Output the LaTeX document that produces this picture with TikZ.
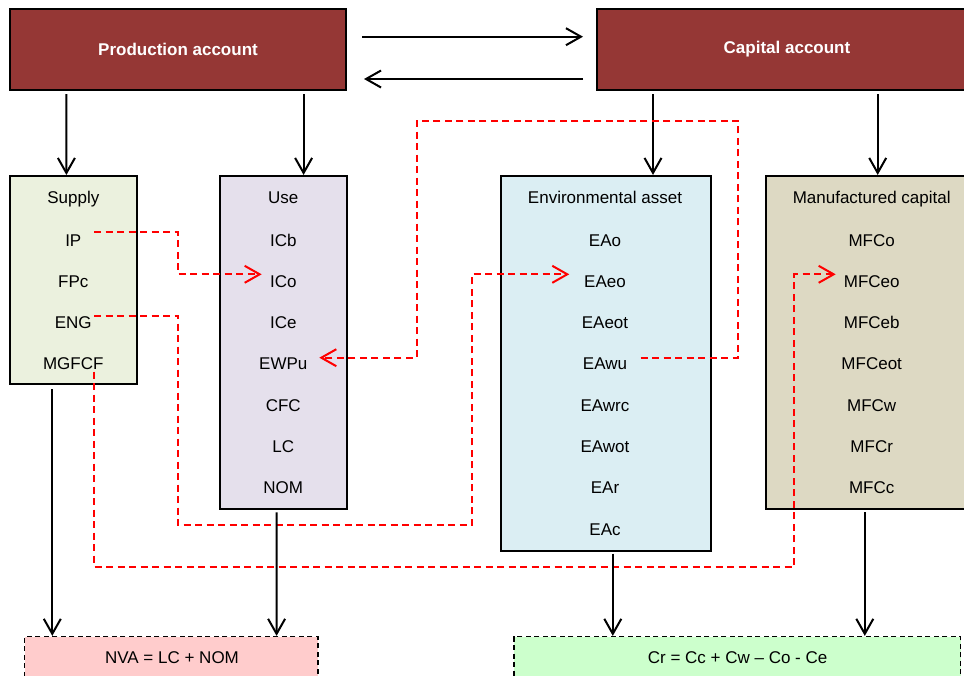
\documentclass[tikz,border=0pt]{standalone}
\usepackage{fontspec}
\setmainfont{Liberation Sans}
\usetikzlibrary{arrows.meta}
\definecolor{acc}{RGB}{149,55,53}
\definecolor{supfill}{RGB}{235,241,222}
\definecolor{usefill}{RGB}{229,224,236}
\definecolor{envfill}{RGB}{219,238,243}
\definecolor{mfcfill}{RGB}{221,217,195}
\definecolor{nvafill}{RGB}{255,204,204}
\definecolor{crfill}{RGB}{204,255,204}
\definecolor{rdash}{RGB}{255,0,0}
\tikzset{
  txt/.style={font=\fontsize{17}{20}\selectfont, anchor=base, inner sep=0pt},
  acct/.style={draw=black, line width=2pt, fill=acc, text=white, font=\fontsize{17}{20}\selectfont\bfseries, inner sep=0pt},
  colbox/.style={draw=black, line width=2pt, inner sep=0pt},
  resbox/.style={draw=black, line width=1.6pt, dash pattern=on 5pt off 3.5pt, inner sep=0pt},
  arr/.style={line width=2pt, -{Straight Barb[length=15pt,width=17pt,line width=2pt]}},
  rdarr/.style={draw=rdash, line width=2pt, dash pattern=on 7pt off 4.5pt, -{Straight Barb[length=15pt,width=17pt,line width=2pt]}}
}
\begin{document}
\begin{tikzpicture}[x=1pt,y=-1pt]
\useasboundingbox (0,0) rectangle (964,675);

% account boxes
\node[acct, minimum width=336pt, minimum height=81pt] (prod) at (178,49.5) {Production account};
\node[acct, minimum width=380pt, minimum height=81pt] (cap) at (787,49.5) {Capital account};

% column boxes
\node[colbox, fill=supfill, minimum width=126.7pt, minimum height=208pt] (sup) at (73.3,280) {};
\node[colbox, fill=usefill, minimum width=126.7pt, minimum height=333.3pt] (use) at (283.3,342.6) {};
\node[colbox, fill=envfill, minimum width=210pt, minimum height=374.7pt] (env) at (605.7,363.3) {};
\node[colbox, fill=mfcfill, minimum width=211pt, minimum height=333.3pt] (mfc) at (871.5,342.6) {};

% result boxes
\node[resbox, fill=nvafill, minimum width=293.2pt, minimum height=41.3pt] (nva) at (171.2,657.3) {};
\node[resbox, fill=crfill, minimum width=446.9pt, minimum height=41.3pt] (cr) at (737.2,657.3) {};

% texts: supply
\node[txt] (tsup) at (73.3,203.3) {Supply};
\node[txt] (ip) at (73.3,246) {IP};
\node[txt] (fpc) at (73.3,287.3) {FPc};
\node[txt] (eng) at (73.3,328.6) {ENG};
\node[txt] (mgfcf) at (73.3,369.9) {MGFCF};
% use
\node[txt] (tuse) at (283.3,203.3) {Use};
\node[txt] (icb) at (283.3,246) {ICb};
\node[txt] (ico) at (283.3,287.3) {ICo};
\node[txt] (ice) at (283.3,328.6) {ICe};
\node[txt] (ewpu) at (283.3,369.9) {EWPu};
\node[txt] (cfc) at (283.3,411.2) {CFC};
\node[txt] (lc) at (283.3,452.5) {LC};
\node[txt] (nom) at (283.3,493.8) {NOM};
% environmental asset
\node[txt] (tenv) at (605,203.3) {Environmental asset};
\node[txt] (eao) at (605,246) {EAo};
\node[txt] (eaeo) at (605,287.3) {EAeo};
\node[txt] (eaeot) at (605,328.6) {EAeot};
\node[txt] (eawu) at (605,369.9) {EAwu};
\node[txt] (eawrc) at (605,411.2) {EAwrc};
\node[txt] (eawot) at (605,452.5) {EAwot};
\node[txt] (ear) at (605,493.8) {EAr};
\node[txt] (eac) at (605,535.1) {EAc};
% manufactured capital
\node[txt] (tmfc) at (871.7,203.3) {Manufactured capital};
\node[txt] (mfco) at (871.7,246) {MFCo};
\node[txt] (mfceo) at (871.7,287.3) {MFCeo};
\node[txt] (mfceb) at (871.7,328.6) {MFCeb};
\node[txt] (mfceot) at (871.7,369.9) {MFCeot};
\node[txt] (mfcw) at (871.7,411.2) {MFCw};
\node[txt] (mfcr) at (871.7,452.5) {MFCr};
\node[txt] (mfcc) at (871.7,493.8) {MFCc};
% result texts
\node[txt] (tnva) at (172,663.3) {NVA = LC + NOM};
\node[txt] (tcr) at (737.6,663.3) {Cr = Cc + Cw – Co - Ce};

% arrows between accounts
\draw[arr] ([xshift=15pt,yshift=12.8pt]prod.east) -- ([xshift=-13pt,yshift=12.8pt]cap.west);
\draw[arr] ([xshift=-13pt,yshift=-29.5pt]cap.west) -- ([xshift=17pt,yshift=-29.5pt]prod.east);

% arrows accounts -> columns
\draw[arr] ([xshift=-111.6pt,yshift=-3pt]prod.south) -- ([xshift=-6.9pt]sup.north);
\draw[arr] ([xshift=125.6pt,yshift=-3pt]prod.south) -- ([xshift=20.3pt]use.north);
\draw[arr] ([xshift=-134pt,yshift=-3pt]cap.south) -- ([xshift=47.3pt]env.north);
\draw[arr] ([xshift=90.7pt,yshift=-3pt]cap.south) -- ([xshift=6.2pt]mfc.north);

% red dashed connectors
\coordinate (ipS) at (94,232.3);
\coordinate (icoE) at (261.7,274.3);
\coordinate (engS) at (94,315.7);
\coordinate (eaeoE) at (569.3,274.3);
\coordinate (mgS) at (94,371.7);
\coordinate (mfceoE) at (835.7,274.3);
\coordinate (eawuS) at (640.7,357.7);
\coordinate (ewpuE) at (319.3,357.7);
\draw[rdarr] (ipS) -- (178,232.3) -- (178,274.3) -- (icoE);
\draw[rdarr] (engS) -- (178,315.7) -- (178,525) -- (472,525) -- (472,274.3) -- (eaeoE);
\draw[rdarr] (mgS) -- (94,566.7) -- (794.3,566.7) -- (794.3,274.3) -- (mfceoE);
\draw[rdarr] (eawuS) -- (738.3,357.7) -- (738.3,120.7) -- (416.7,120.7) -- (416.7,357.7) -- (ewpuE);

% arrows columns -> results
\draw[arr] ([xshift=-21pt,yshift=-4pt]sup.south) -- ([xshift=-118.9pt]nva.north);
\draw[arr] ([xshift=-6.7pt,yshift=-2pt]use.south) -- ([xshift=105.4pt]nva.north);
\draw[arr] ([xshift=7.1pt,yshift=-2pt]env.south) -- ([xshift=-124.4pt]cr.north);
\draw[arr] ([xshift=-6.7pt,yshift=-2pt]mfc.south) -- ([xshift=127.6pt]cr.north);
\end{tikzpicture}
\end{document}
